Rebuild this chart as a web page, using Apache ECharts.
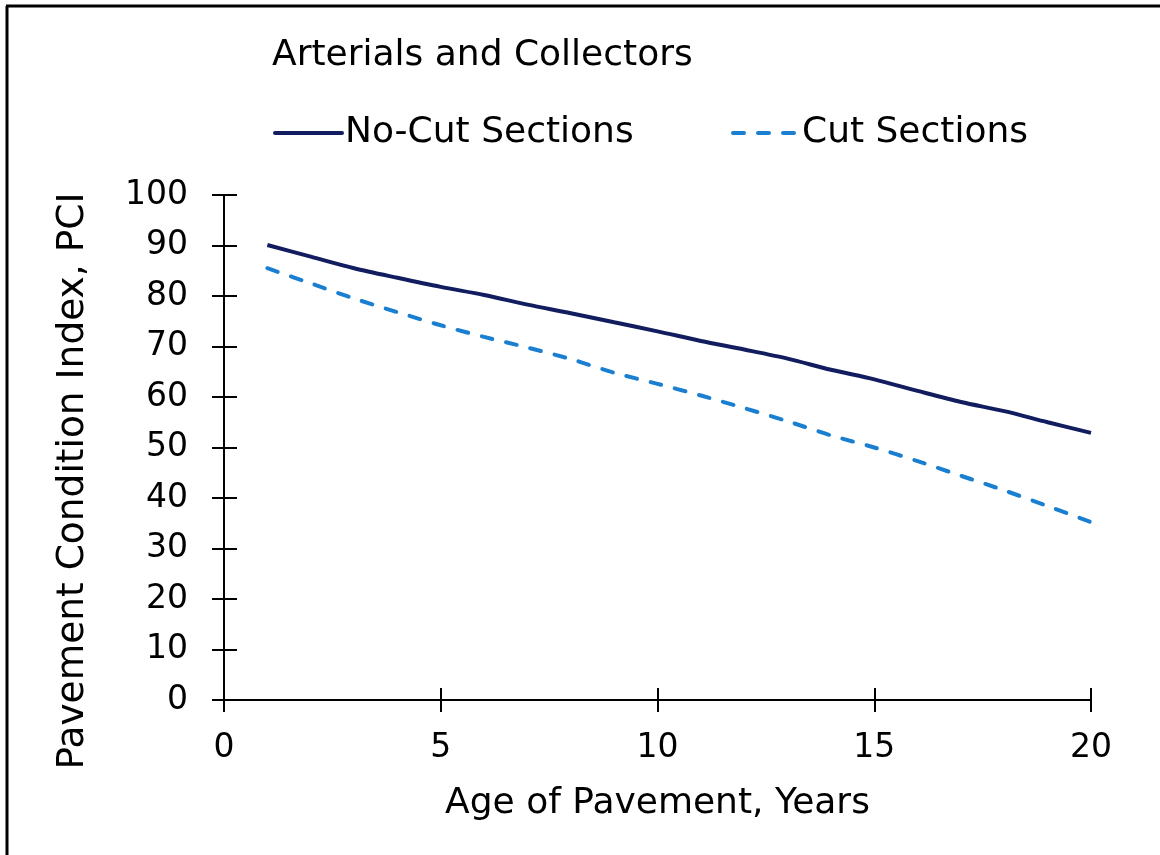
<!DOCTYPE html>
<html>
<head>
<meta charset="utf-8">
<script src="https://cdn.jsdelivr.net/npm/echarts@6/dist/echarts.min.js"></script>
<style>
  html, body { margin: 0; padding: 0; background: #fff; }
  #chart { width: 1160px; height: 855px; }
</style>
</head>
<body>
<div id="chart"></div>
<script>
// Pavement age (years) and condition index for each section type
const years = [1, 2, 3, 4, 5, 6, 7, 8, 9, 10, 11, 12, 13, 14, 15, 16, 17, 18, 19, 20];
const noCutPCI = [90.1, 87.8, 85.5, 83.6, 81.8, 80.2, 78.3, 76.6, 74.8, 73.0, 71.1, 69.4, 67.6, 65.4, 63.5, 61.2, 59.0, 57.2, 55.0, 52.9];
const cutPCI = [85.5, 82.5, 79.5, 76.8, 74.2, 71.9, 69.8, 67.5, 64.8, 62.6, 60.3, 57.8, 55.2, 52.4, 50.0, 47.3, 44.4, 41.5, 38.4, 35.2];
const seriesNames = ['No-Cut Sections', 'Cut Sections'];
const chartTitle = 'Arterials and Collectors';
const xName = 'Age of Pavement, Years';
const yName = 'Pavement Condition Index, PCI';

const FONT = 'DejaVu Sans, Verdana, sans-serif';
const NAVY = '#111d5e';
const BLUE = '#1a7fd0';
const DASH = [11, 14];
const LINE_W = 4;

const pair = (a, b) => a.map((v, i) => [v, b[i]]);

const chart = echarts.init(document.getElementById('chart'), null, { renderer: 'canvas' });

const baseAxisLine = { show: true, lineStyle: { color: '#000', width: 2 } };
const tickStyle = { color: '#000', width: 2 };

const legendCommon = {
  itemWidth: 67, itemHeight: 14, itemGap: 8,
  itemStyle: { opacity: 0 },
  lineStyle: { width: LINE_W, cap: 'round' },
  textStyle: { fontFamily: FONT, fontSize: 36, color: '#000', padding: [0, 0, 0, -2] }
};

chart.setOption({
  animation: false,
  backgroundColor: '#fff',
  title: {
    text: chartTitle,
    left: 267, top: 33,
    textStyle: { fontFamily: FONT, fontSize: 36, fontWeight: 'normal', color: '#000' }
  },
  legend: [
    Object.assign({ data: [seriesNames[0]], left: 268, top: 110 }, legendCommon),
    Object.assign({ data: [seriesNames[1]], left: 726, top: 110, itemGap: 4 }, legendCommon, { itemWidth: 66 })
  ],
  grid: { left: 224, right: 69, top: 195, bottom: 155, containLabel: false },
  xAxis: [
    {
      type: 'value', min: 0, max: 20, interval: 5,
      name: xName, nameLocation: 'middle', nameGap: 86,
      nameTextStyle: { fontFamily: FONT, fontSize: 36, color: '#000' },
      axisLine: baseAxisLine,
      axisTick: { show: true, length: 12, lineStyle: tickStyle },
      axisLabel: { fontFamily: FONT, fontSize: 33, color: '#000', margin: 32 },
      splitLine: { show: false }
    },
    {
      type: 'value', min: 0, max: 20, interval: 5, position: 'bottom',
      axisLine: { show: false },
      axisTick: { show: true, inside: true, length: 12, lineStyle: tickStyle },
      axisLabel: { show: false },
      splitLine: { show: false }
    }
  ],
  yAxis: [
    {
      type: 'value', min: 0, max: 100, interval: 10,
      axisLine: baseAxisLine,
      axisTick: { show: true, length: 12, lineStyle: tickStyle },
      axisLabel: { fontFamily: FONT, fontSize: 33, color: '#000', margin: 36 },
      splitLine: { show: false }
    },
    {
      type: 'value', min: 0, max: 100, interval: 10, position: 'left',
      axisLine: { show: false },
      axisTick: { show: true, inside: true, length: 13, lineStyle: tickStyle },
      axisLabel: { show: false },
      splitLine: { show: false }
    }
  ],
  graphic: [
    // left and top frame edges
    { type: 'line', shape: { x1: 7, y1: 6, x2: 7, y2: 855 }, style: { stroke: '#000', lineWidth: 3 } },
    { type: 'line', shape: { x1: 6, y1: 6, x2: 1160, y2: 6 }, style: { stroke: '#000', lineWidth: 3 } },
    {
      type: 'text', x: 73, y: 481, rotation: Math.PI / 2,
      style: {
        text: yName, fontFamily: FONT, fontSize: 37.5, fill: '#000',
        textAlign: 'center', textVerticalAlign: 'middle'
      }
    }
  ],
  series: [
    {
      name: seriesNames[0], type: 'line', xAxisIndex: 0, yAxisIndex: 0,
      data: pair(years, noCutPCI), smooth: 0.3, symbol: 'none',
      itemStyle: { color: NAVY },
      lineStyle: { color: NAVY, width: LINE_W }
    },
    {
      name: seriesNames[1], type: 'line', xAxisIndex: 0, yAxisIndex: 0,
      data: pair(years, cutPCI), smooth: 0.3, symbol: 'none',
      itemStyle: { color: BLUE },
      lineStyle: { color: BLUE, width: LINE_W, type: DASH, cap: 'round' }
    }
  ]
});
</script>
</body>
</html>
